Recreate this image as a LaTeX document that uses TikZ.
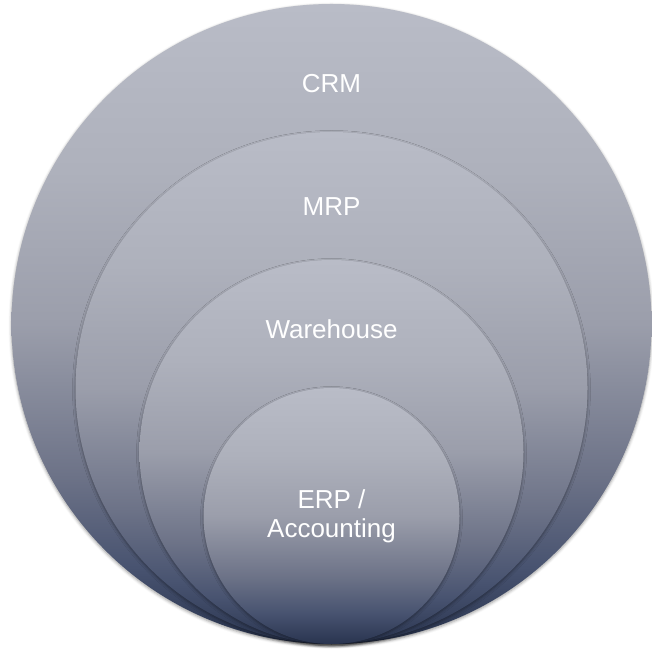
\documentclass[tikz,border=0pt]{standalone}
\usepackage{fontspec}
\setmainfont{Liberation Sans}
\usetikzlibrary{positioning}
\usetikzlibrary{shadows.blur}

\definecolor{ringT}{HTML}{B9BCC7}
\definecolor{ringA}{HTML}{AEB1BC}
\definecolor{ringB}{HTML}{9B9EAB}
\definecolor{ringC}{HTML}{6C7287}
\definecolor{ringE}{HTML}{485370}
\definecolor{ringD}{HTML}{29344F}
\pgfdeclareverticalshading{ringshade}{100bp}{color(0bp)=(ringD); color(25bp)=(ringD); color(31bp)=(ringE); color(38bp)=(ringC); color(50bp)=(ringB); color(62bp)=(ringA); color(75bp)=(ringT); color(100bp)=(ringT)}

\begin{document}
\begin{tikzpicture}[ring/.style={circle, inner sep=0pt, shading=ringshade,
      blur shadow={shadow xshift=0pt, shadow yshift=-1.5pt, shadow blur radius=3pt, shadow opacity=40}},
    lbl/.style={text=white, inner sep=0pt, align=center, font=\fontsize{26}{29}\selectfont}]
		\useasboundingbox (0,0) rectangle (652pt,650pt);
		\node (crm) [ring, minimum size=640pt] at (331.5pt,326pt) {};
		\node (mrp) [ring, minimum size=512pt, above=0pt of crm.south] {};
		\node (wh) [ring, minimum size=384pt, above=0pt of crm.south] {};
		\node (erp) [ring, minimum size=256pt, above=0pt of crm.south] {};
		\node (crmtxt) [lbl, below=70pt of crm.north] {CRM};
		\node (mrptxt) [lbl, below=66pt of mrp.north] {MRP};
		\node (whtxt) [lbl, below=60pt of wh.north] {Warehouse};
		\node (erptxt) [lbl] at (erp) {ERP /\\Accounting};
		\end{tikzpicture}
\end{document}
